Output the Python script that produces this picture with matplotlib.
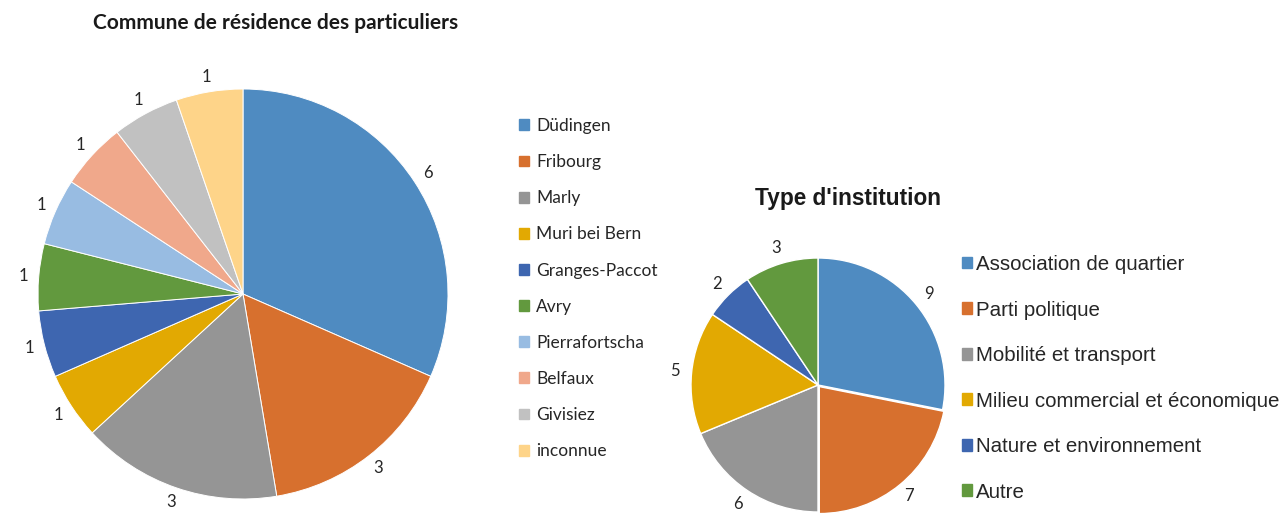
import matplotlib
matplotlib.use("Agg")
import numpy as np
import matplotlib.pyplot as plt
import matplotlib.patches as mpatches

W, H = 1288, 513
DPI = 100

# --- données ---
communes = ["Düdingen", "Fribourg", "Marly", "Muri bei Bern", "Granges-Paccot",
            "Avry", "Pierrafortscha", "Belfaux", "Givisiez", "inconnue"]
communes_n = [6, 3, 3, 1, 1, 1, 1, 1, 1, 1]
communes_colors = ["#4f8bc1", "#d7702e", "#959595", "#e2a902", "#3e66b0",
                   "#62993e", "#98bce2", "#f0a88b", "#c1c1c1", "#fed489"]

institutions = ["Association de quartier", "Parti politique", "Mobilité et transport",
                "Milieu commercial et économique", "Nature et environnement", "Autre"]
institutions_n = [9, 7, 6, 5, 2, 3]
institutions_colors = ["#4f8bc1", "#d7702e", "#959595", "#e2a902", "#3e66b0", "#62993e"]


def px_axes(fig, x0, y0_top, x1, y1_top, cx, cy_top, r):
    """axes en pixels, 1 unité = rayon du camembert"""
    ax = fig.add_axes([x0 / W, 1 - y1_top / H, (x1 - x0) / W, (y1_top - y0_top) / H])
    lims = ((x0 - cx) / r, (x1 - cx) / r), ((cy_top - y1_top) / r, (cy_top - y0_top) / r)
    ax.set_axis_off()
    return ax, lims


def draw_pie(ax, lims, values, colors, label_r, size, lw, explode=None):
    wedges, _ = ax.pie(values, colors=colors, startangle=90, counterclock=False,
                       explode=explode,
                       wedgeprops=dict(edgecolor="white", linewidth=lw))
    ax.set_xlim(lims[0])
    ax.set_ylim(lims[1])
    for w, v in zip(wedges, values):
        ang = np.deg2rad((w.theta1 + w.theta2) / 2)
        ax.text(label_r * np.cos(ang), label_r * np.sin(ang), str(v),
                ha="center", va="center", family="Lato", fontsize=size, color="#262626")
    return wedges


fig = plt.figure(figsize=(W / DPI, H / DPI), dpi=DPI)

# camembert gauche
ax1, lims1 = px_axes(fig, 0, 0, 500, 513, 243, 294, 205)
draw_pie(ax1, lims1, communes_n, communes_colors, 1.075, 12, 0.7)
fig.text(276 / W, 1 - 23 / H, "Commune de résidence des particuliers",
         ha="center", va="center", family="Lato", fontweight="bold", fontsize=15,
         color="#1a1a1a")
handles1 = [mpatches.Patch(color=c) for c in communes_colors]
fig.legend(handles1, communes, loc="upper left", bbox_to_anchor=(519 / W, 1 - 118 / H),
           frameon=False, prop={"family": "Lato", "size": 12.5},
           handlelength=0.58, handleheight=0.58, handletextpad=0.4,
           labelspacing=1.16, borderpad=0, borderaxespad=0, labelcolor="#262626")

# camembert droit
ax2, lims2 = px_axes(fig, 640, 200, 960, 513, 818, 385, 127)
draw_pie(ax2, lims2, institutions_n, institutions_colors, 1.13, 12, 1.0,
         explode=[0, 0.016, 0, 0, 0, 0])
fig.text(848 / W, 1 - 199 / H, "Type d'institution",
         ha="center", va="center", family="Liberation Sans", fontweight="bold", fontsize=16.3,
         color="#1a1a1a")
handles2 = [mpatches.Patch(color=c) for c in institutions_colors]
fig.legend(handles2, institutions, loc="upper left", bbox_to_anchor=(962 / W, 1 - 255 / H),
           frameon=False, prop={"family": "Liberation Sans", "size": 14.8},
           handlelength=0.49, handleheight=0.49, handletextpad=0.2,
           labelspacing=1.29, borderpad=0, borderaxespad=0, labelcolor="#262626")

fig.savefig("out.png", dpi=DPI)
